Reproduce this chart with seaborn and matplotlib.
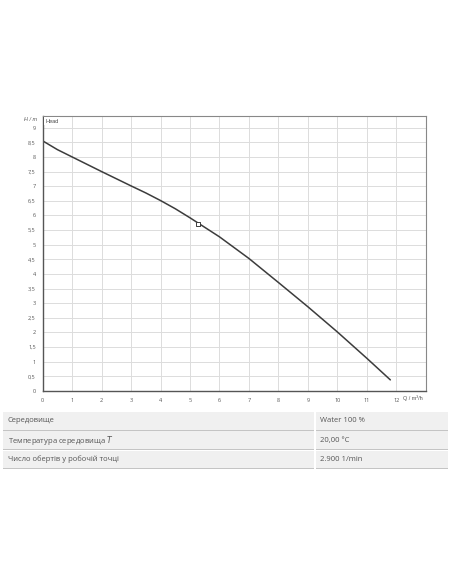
import numpy as np
import pandas as pd
import matplotlib
matplotlib.use('Agg')
from matplotlib import pyplot as plt
from matplotlib.ticker import MultipleLocator, FuncFormatter
from matplotlib.patches import Rectangle
import seaborn as sns

sns.set_style('white')
plt.rcParams['font.family'] = ['Open Sans', 'DejaVu Sans']

# pump curve
flow = [0, 0.5, 1, 2, 3, 3.5, 4, 4.5, 5, 6, 7, 8, 9, 10, 11, 11.8]
head = [8.55, 8.25, 8.0, 7.5, 7.01, 6.77, 6.51, 6.23, 5.92, 5.27, 4.53, 3.71, 2.88, 2.02, 1.12, 0.38]
duty_q = [5.27]
duty_h = [5.72]

row_names = ['Середовище', 'Температура середовища $\\it{T}$', 'Число обертів у робочій точці']
row_values = ['Water 100 %', '20,00 °C', '2.900 1/min']

W, H = 452, 584
fig = plt.figure(figsize=(W / 100, H / 100), dpi=100)
ax = fig.add_axes([42.7 / W, 1 - 391 / H, (425.7 - 42.7) / W, (391 - 116) / H])

df = pd.DataFrame({'Q': flow, 'H': head})
sns.lineplot(data=df, x='Q', y='H', ax=ax, color='#3c3c3c', lw=1.1)
sns.scatterplot(x=duty_q, y=duty_h, ax=ax, marker='s', s=10, facecolor='white',
                edgecolor='#3c3c3c', linewidth=0.7, zorder=5)

ax.set_xlim(0, 13)
ax.set_ylim(0, 9.4)
ax.xaxis.set_major_locator(MultipleLocator(1))
ax.xaxis.set_minor_locator(MultipleLocator(0.2))
ax.yaxis.set_major_locator(MultipleLocator(0.5))
ax.yaxis.set_minor_locator(MultipleLocator(0.1))
fmt = FuncFormatter(lambda v, p: ('%g' % v).replace('.', ','))
ax.yaxis.set_major_formatter(fmt)
ax.xaxis.set_major_formatter(FuncFormatter(lambda v, p: '%g' % v if v <= 12 else ''))
ax.tick_params(which='major', length=3, width=0.6, color='#555555', labelsize=4,
               labelcolor='#555555', pad=2)
ax.tick_params(which='minor', length=1.5, width=0.5, color='#555555')
ax.grid(True, which='major', color='#dcdcdc', lw=0.7)
ax.set_xlabel('')
ax.set_ylabel('')
for side in ['top', 'right']:
    ax.spines[side].set_color('#888888')
    ax.spines[side].set_linewidth(0.8)
for side in ['left', 'bottom']:
    ax.spines[side].set_color('#555555')
    ax.spines[side].set_linewidth(1.0)

ax.text(0.007, 0.99, 'Head', transform=ax.transAxes, fontsize=4, color='#444444',
        va='top', ha='left', family='Liberation Sans',
        bbox=dict(facecolor='white', edgecolor='none', pad=1.2))
fig.text(31 / W, 1 - 120 / H, 'H / m', fontsize=4, color='#555555', ha='center',
         va='center', family='Liberation Sans', style='italic')
fig.text(413 / W, 1 - 398 / H, 'Q / m³/h', fontsize=4, color='#555555', ha='center',
         va='center', family='Liberation Sans')

# parameter table under the chart
for i, (name, val) in enumerate(zip(row_names, row_values)):
    top = 412 + 19.3 * i
    bot = top + 17.5
    for x0, x1 in [(3, 314), (316, 448)]:
        fig.patches.append(Rectangle((x0 / W, 1 - bot / H), (x1 - x0) / W, (bot - top) / H,
                                     transform=fig.transFigure, facecolor='#f0f0f0',
                                     edgecolor='none'))
        fig.patches.append(Rectangle((x0 / W, 1 - (bot + 1.3) / H), (x1 - x0) / W, 1.3 / H,
                                     transform=fig.transFigure, facecolor='#c4c4c4',
                                     edgecolor='none'))
    yc = 1 - (top + bot) / 2 / H
    fig.text(8 / W, yc, name, fontsize=5.5, color='#555555', va='center', ha='left')
    fig.text(320 / W, yc, val, fontsize=5.5, color='#555555', va='center', ha='left')

fig.savefig('out.png', dpi=100, facecolor='white')
